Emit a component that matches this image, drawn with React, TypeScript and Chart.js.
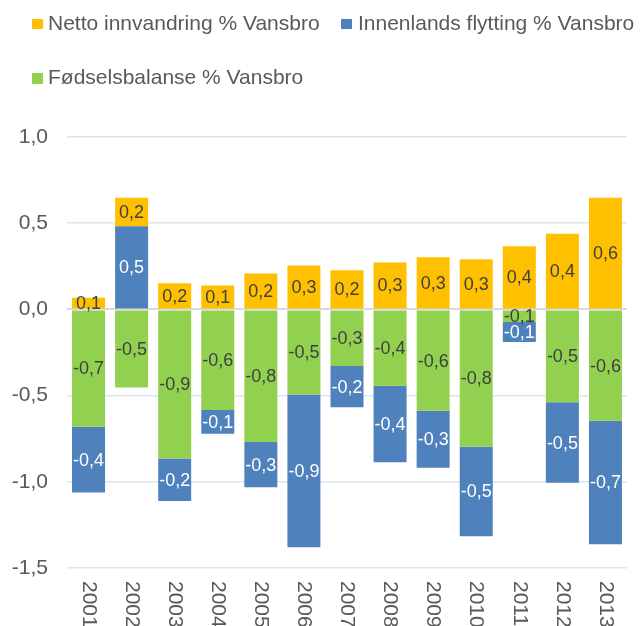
import React, { useEffect, useRef } from "react";
import { Chart, registerables } from "chart.js";

Chart.register(...registerables);

const years = ["2001", "2002", "2003", "2004", "2005", "2006", "2007", "2008", "2009", "2010", "2011", "2012", "2013"];
const nettoInnvandring = [0.068, 0.165, 0.152, 0.139, 0.208, 0.254, 0.227, 0.272, 0.302, 0.291, 0.366, 0.439, 0.647];
const innenlandsFlytting = [-0.382, 0.482, -0.247, -0.137, -0.262, -0.887, -0.24, -0.443, -0.331, -0.52, -0.116, -0.467, -0.716];
const fodselsbalanse = [-0.68, -0.453, -0.865, -0.584, -0.769, -0.493, -0.328, -0.443, -0.588, -0.796, -0.073, -0.539, -0.646];
const seriesNames = ["Netto innvandring % Vansbro", "Innenlands flytting % Vansbro", "Fødselsbalanse % Vansbro"];
const seriesColors = ["#FFC000", "#4F81BD", "#92D050"];
const yMin = -1.5;
const yMax = 1.0;
const yStep = 0.5;

const FONT = '"Liberation Sans", Arial, sans-serif';
const fmt = (v: number) => v.toFixed(1).replace(".", ",");

const segLabels = {
  id: "segLabels",
  afterDatasetsDraw(chart: any) {
    const ctx = chart.ctx;
    ctx.save();
    ctx.font = `18px ${FONT}`;
    ctx.textAlign = "center";
    ctx.textBaseline = "middle";
    chart.data.datasets.forEach((ds: any, di: number) => {
      const meta = chart.getDatasetMeta(di);
      meta.data.forEach((el: any, i: number) => {
        const v = ds.data[i] as number;
        const p = el.getProps(["x", "y", "base"], true);
        ctx.fillStyle = ds.labelColor;
        ctx.fillText(fmt(v), p.x, (p.y + p.base) / 2 + 1);
      });
    });
    ctx.restore();
  },
};

const xLabels = {
  id: "xLabels",
  afterDraw(chart: any) {
    const ctx = chart.ctx;
    const xs = chart.scales.x;
    const top = chart.chartArea.bottom + 13;
    ctx.save();
    ctx.font = `21px ${FONT}`;
    ctx.fillStyle = "#595959";
    ctx.textAlign = "left";
    ctx.textBaseline = "middle";
    chart.data.labels.forEach((lab: string, i: number) => {
      const x = xs.getPixelForValue(i);
      ctx.save();
      ctx.translate(x, top);
      ctx.rotate(Math.PI / 2);
      ctx.fillText(lab, 0, 0);
      ctx.restore();
    });
    ctx.restore();
  },
};

export default function App() {
  const ref = useRef<HTMLCanvasElement>(null);
  useEffect(() => {
    if (!ref.current) return;
    const chart = new Chart(ref.current, {
      type: "bar",
      data: {
        labels: years,
        datasets: [
          { label: seriesNames[2], data: fodselsbalanse, backgroundColor: seriesColors[2], labelColor: "#404040" } as any,
          { label: seriesNames[1], data: innenlandsFlytting, backgroundColor: seriesColors[1], labelColor: "#FFFFFF" } as any,
          { label: seriesNames[0], data: nettoInnvandring, backgroundColor: seriesColors[0], labelColor: "#404040" } as any,
        ],
      },
      options: {
        responsive: false,
        animation: false,
        devicePixelRatio: 1,
        layout: { padding: { top: 137, right: 13, left: 0, bottom: 0 } },
        datasets: { bar: { categoryPercentage: 1, barPercentage: 0.766, borderWidth: 0 } },
        plugins: { legend: { display: false }, tooltip: { enabled: false } },
        scales: {
          x: {
            stacked: true,
            grid: { display: false },
            border: { display: false },
            ticks: { display: false },
            afterFit: (s: any) => {
              s.height = 58;
            },
          },
          y: {
            stacked: true,
            min: yMin,
            max: yMax,
            border: { display: false },
            grid: {
              drawTicks: false,
              color: (c: any) => (c.tick && c.tick.value === 0 ? "#D9D9D9" : "#DCE5F1"),
              lineWidth: (c: any) => (c.tick && c.tick.value === 0 ? 2 : 1.5),
            },
            ticks: {
              stepSize: yStep,
              padding: 19,
              color: "#595959",
              font: { size: 21, family: FONT },
              callback: (v: any) => fmt(Number(v)),
            },
            afterFit: (s: any) => {
              s.width = 67;
            },
          },
        },
      },
      plugins: [segLabels, xLabels],
    });
    return () => chart.destroy();
  }, []);

  const legendRows = [
    [
      { name: seriesNames[0], color: seriesColors[0], boxX: 32, textX: 48, top: 10.5 },
      { name: seriesNames[1], color: seriesColors[1], boxX: 341, textX: 358, top: 10.5 },
    ],
    [{ name: seriesNames[2], color: seriesColors[2], boxX: 32, textX: 48, top: 65 }],
  ];

  return (
    <div style={{ position: "absolute", left: 0, top: 0, width: 640, height: 626, background: "#fff", overflow: "hidden" }}>
      <canvas ref={ref} width={640} height={626} style={{ position: "absolute", left: 0, top: 0, width: 640, height: 626 }} />
      {legendRows.flat().map((it) => (
        <React.Fragment key={it.name}>
          <div
            style={{
              position: "absolute",
              left: it.boxX,
              top: it.top + 8,
              width: 10.5,
              height: 10.5,
              background: it.color,
            }}
          />
          <div
            style={{
              position: "absolute",
              left: it.textX,
              top: it.top,
              height: 24,
              lineHeight: "24px",
              fontSize: 21,
              fontFamily: FONT,
              color: "#595959",
              whiteSpace: "nowrap",
            }}
          >
            {it.name}
          </div>
        </React.Fragment>
      ))}
    </div>
  );
}
